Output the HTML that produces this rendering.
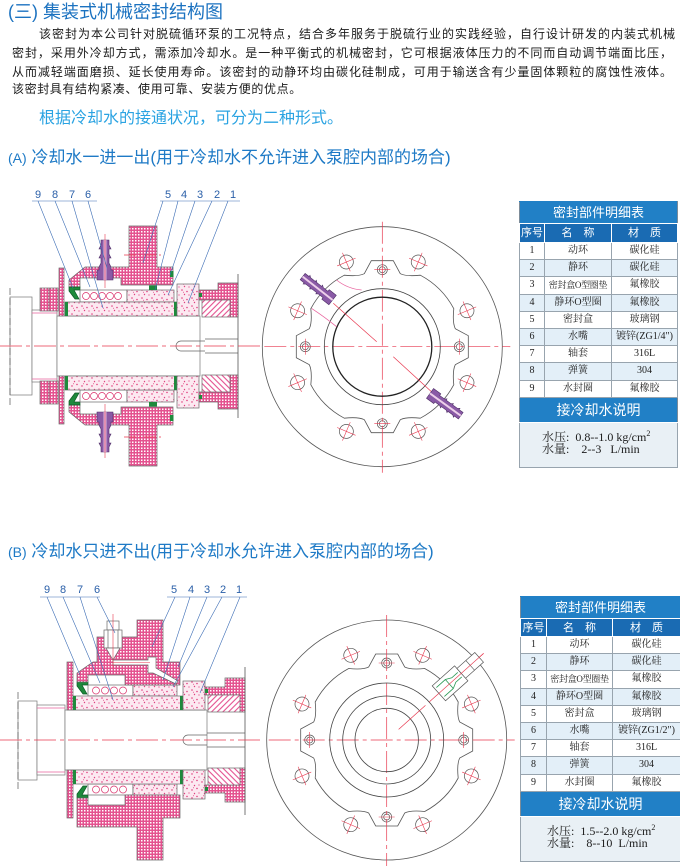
<!DOCTYPE html>
<html><head><meta charset="utf-8">
<style>
*{margin:0;padding:0;box-sizing:border-box}
body{width:680px;height:866px;background:#fff;position:relative;overflow:hidden;font-family:"Liberation Sans","Noto Sans CJK SC",sans-serif}
.t{position:absolute;white-space:nowrap}
.h1{left:8px;top:1px;font-size:18px;line-height:22px;color:#1b72c0}
.p{position:absolute;font-size:12px;line-height:18px;color:#1a1a1a;text-align:justify;text-align-last:justify;white-space:normal}
.sub{left:39px;top:109px;font-size:16px;line-height:20px;color:#2aa3e2}
.hd{left:8px;font-size:17px;line-height:20px;color:#1e7ac6}
.hd span{font-size:14px}
.tb{position:absolute;border-collapse:collapse;table-layout:fixed;font-family:"Liberation Serif","Noto Serif CJK SC",serif;font-size:10px;color:#222;border:1px solid #7d8c99}
.tb td{border:1px solid #98a4ae;text-align:center;padding:0;line-height:12px;white-space:nowrap;overflow:hidden}
.tb tr.r{height:17.2px}
.tb tr.r td{background:#fff}
.tb tr.r.a td{background:#e3eff8}
.tb td.s{font-size:9px;letter-spacing:-.3px}
.tb tr.tt td{background:#2180c6;color:#fff;font-family:"Liberation Sans","Noto Sans CJK SC",sans-serif;font-size:13px;border-color:#2180c6 #7d8c99 #fff #7d8c99}
.tb tr.th td{background:#1a6bb3;color:#fff;font-family:"Liberation Sans","Noto Sans CJK SC",sans-serif;font-size:11px;border-color:#fff}
.tb tr.bx td{background:#e9f0f5;text-align:left;vertical-align:top;font-size:12px;line-height:12.6px;padding:8px 0 0 22px;color:#1a1a1a}
sup{font-size:8px;vertical-align:5px;line-height:0}
svg{position:absolute;left:0;top:0}
</style></head><body>
<svg width="680" height="866" viewBox="0 0 680 866">
<defs>
<pattern id="ck" width="3" height="3" patternUnits="userSpaceOnUse"><rect width="3" height="3" fill="#e4528f"/><rect width="1.5" height="1.5" fill="#fff"/></pattern>
<pattern id="dt" width="10" height="8" patternUnits="userSpaceOnUse"><rect width="10" height="8" fill="#fce9f1"/><circle cx="2" cy="2" r=".8" fill="#e0407f"/><circle cx="7" cy="3.5" r=".8" fill="#e0407f"/><circle cx="4.5" cy="6.5" r=".7" fill="#e0407f"/><circle cx="9" cy="7" r=".6" fill="#e0407f"/><circle cx="3.5" cy="4.2" r=".5" fill="#e0407f"/></pattern>
<pattern id="ht" width="4" height="4" patternUnits="userSpaceOnUse" patternTransform="rotate(45)"><rect width="4" height="4" fill="#fff"/><line x1="1" y1="0" x2="1" y2="4" stroke="#e4508f" stroke-width="1.1"/></pattern>

<g id="hA" stroke="#6a6a6a" stroke-width=".7">
 <rect x="40" y="288" width="18" height="23" fill="url(#ck)"/>
 <line x1="49" y1="288" x2="49" y2="311"/>
 <rect x="59" y="268" width="5" height="48" fill="url(#ck)"/>
 <polygon points="69,287 69,280 85,267 129,267 129,226 157,226 157,267 173,267 173,285 121,285 121,278 80,278 80,287" fill="url(#ck)"/>
 <path d="M69,287 h11 v3 h-6 l5,9 h-4 l-6,-8z" fill="#1e8a3c" stroke="#0d5a25"/>
 <rect x="80" y="290" width="47" height="12" fill="#fff"/>
 <g fill="none" stroke="#d8306a"><circle cx="86" cy="296" r="3.5"/><circle cx="94" cy="296" r="3.5"/><circle cx="102" cy="296" r="3.5"/><circle cx="110" cy="296" r="3.5"/><circle cx="118" cy="296" r="3.5"/></g>
 <rect x="127" y="290" width="47" height="12" fill="url(#dt)"/>
 <rect x="149" y="285.5" width="8" height="4.5" fill="#1e8a3c" stroke="none"/>
 <rect x="170" y="271" width="3.5" height="6" fill="#1e8a3c" stroke="none"/>
 <rect x="65" y="302" width="112" height="14" fill="url(#dt)"/>
 <rect x="65" y="302" width="3" height="14" fill="#1e8a3c" stroke="none"/>
 <rect x="174" y="302" width="3" height="14" fill="#1e8a3c" stroke="none"/>
 <rect x="177" y="284" width="22" height="32" fill="url(#dt)"/>
 <polygon points="199,290 218,290 218,283 238,283 238,317 230,317 230,300 199,300" fill="url(#ck)"/>
 <rect x="202" y="300" width="28" height="17" fill="url(#ht)"/>
 <rect x="199" y="293" width="3" height="4" fill="#1e8a3c" stroke="none"/>
 <line x1="124" y1="255" x2="164" y2="255" stroke="#e8384f" stroke-dasharray="12,3,2,3"/>
 <polygon points="101,240 109,240 109,245 111,249 109,249 109,254 111,258 109,258 109,263 111,267 111,270 113,270 113,280 97,280 97,270 99,270 99,267 101,263 101,258 99,258 101,254 101,249 99,249 101,245" fill="#8a5aa6" stroke="#4e2e66" stroke-width=".6"/>
 <rect x="103.5" y="240" width="3" height="40" fill="#dcb6dc" stroke="none"/>
 <line x1="105" y1="234" x2="105" y2="288" stroke="#e8384f" stroke-width=".6"/>
</g>

<g id="hB" stroke="#6a6a6a" stroke-width=".7">
 <rect x="67" y="662" width="6" height="48" fill="url(#ck)"/>
 <path d="M77,682 h11 v3 h-6 l5,9 h-4 l-6,-8z" fill="#1e8a3c" stroke="#0d5a25"/>
 <rect x="88" y="685" width="45" height="11" fill="#fff"/>
 <g fill="none" stroke="#d8306a"><circle cx="96" cy="690.5" r="3.5"/><circle cx="105" cy="690.5" r="3.5"/><circle cx="114" cy="690.5" r="3.5"/><circle cx="123" cy="690.5" r="3.5"/></g>
 <rect x="133" y="685" width="44" height="11" fill="url(#dt)"/>
 <rect x="157" y="680.5" width="8" height="4.5" fill="#1e8a3c" stroke="none"/>
 <rect x="177" y="666" width="3" height="6" fill="#1e8a3c" stroke="none"/>
 <rect x="73" y="696" width="110" height="14" fill="url(#dt)"/>
 <rect x="73" y="696" width="3" height="14" fill="#1e8a3c" stroke="none"/>
 <rect x="180" y="696" width="3" height="14" fill="#1e8a3c" stroke="none"/>
 <rect x="183" y="681" width="22" height="29" fill="url(#dt)"/>
 <polygon points="205,687 225,687 225,678 245,678 245,712 240,712 240,695 205,695" fill="url(#ck)"/>
 <rect x="208" y="695" width="32" height="17" fill="url(#ht)"/>
 <rect x="205" y="689" width="3" height="4" fill="#1e8a3c" stroke="none"/>
</g>

<g id="hole"><circle cx="0" cy="-92" r="7" fill="none" stroke="#555" stroke-width=".7"/><path d="M0,-102V-82M-10,-92H10" stroke="#e8384f" stroke-width=".6" fill="none"/></g>
<g id="lh"><circle cx="0" cy="-77" r="5" fill="none" stroke="#555" stroke-width=".7"/><circle cx="0" cy="-77" r="3" fill="none" stroke="#555" stroke-width=".7"/><path d="M-8,-77H8" stroke="#e8384f" stroke-width=".6"/></g>
<g id="flg">
 <circle r="120" fill="none" stroke="#555" stroke-width=".8"/>
 <path d="M-11,-86 L11,-86 L18,-73 Q24,-70 38,-71.5 A81 81 0 0 1 71.5,-38 Q70,-24 73,-18 L86,-11 L86,11 L73,18 Q70,24 71.5,38 A81 81 0 0 1 38,71.5 Q24,70 18,73 L11,86 L-11,86 L-18,73 Q-24,70 -38,71.5 A81 81 0 0 1 -71.5,38 Q-70,24 -73,18 L-86,11 L-86,-11 L-73,-18 Q-70,-24 -71.5,-38 A81 81 0 0 1 -38,-71.5 Q-24,-70 -18,-73 Z" fill="none" stroke="#555" stroke-width=".8"/>
 <use href="#hole" transform="rotate(23)"/><use href="#hole" transform="rotate(67)"/><use href="#hole" transform="rotate(113)"/><use href="#hole" transform="rotate(157)"/>
 <use href="#hole" transform="rotate(203)"/><use href="#hole" transform="rotate(247)"/><use href="#hole" transform="rotate(293)"/><use href="#hole" transform="rotate(337)"/>
 <use href="#lh"/><use href="#lh" transform="rotate(90)"/><use href="#lh" transform="rotate(180)"/><use href="#lh" transform="rotate(270)"/>
 <line x1="-118" y1="0" x2="128" y2="0" stroke="#e8384f" stroke-width=".7" stroke-dasharray="22,4,4,4"/>
 <line x1="0" y1="-125" x2="0" y2="126" stroke="#e8384f" stroke-width=".7" stroke-dasharray="22,4,4,4"/>
</g>
<g id="nzA">
 <polygon points="0,-6 9,-6 9,-4 15,-4 17,-5.5 17,-4 23,-4 25,-5.5 25,-4 31,-4 33,-5.5 33,-4 38,-4 38,4 33,4 33,5.5 31,4 25,4 25,5.5 23,4 17,4 17,5.5 15,4 9,4 9,6 0,6" fill="#8a5aa6" stroke="#4e2e66" stroke-width=".6"/>
 <line x1="0" y1="0" x2="38" y2="0" stroke="#eed0ea" stroke-width="2"/>
</g>
</defs>

<!-- Drawing A left -->
<rect x="10" y="297" width="22" height="98" fill="#fff" stroke="#777" stroke-width=".7"/>
<line x1="10" y1="288" x2="10" y2="405" stroke="#555" stroke-width=".7" stroke-dasharray="7,3"/>
<rect x="32" y="310" width="25" height="72" fill="#fff" stroke="#777" stroke-width=".7"/>
<line x1="32" y1="313" x2="57" y2="313" stroke="#e8609c" stroke-width=".7"/>
<line x1="32" y1="379" x2="57" y2="379" stroke="#e8609c" stroke-width=".7"/>
<rect x="57" y="316" width="143" height="60" fill="#fff" stroke="#777" stroke-width=".7"/>
<path d="M205,341 H181 A5,5 0 0 0 181,351 H205 M205,339 H238 M205,353 H238" fill="none" stroke="#666" stroke-width=".7"/>
<use href="#hA"/>
<use href="#hA" transform="matrix(1,0,0,-1,0,692)"/>
<line x1="238" y1="274" x2="238" y2="418" stroke="#555" stroke-width=".8"/>
<line x1="0" y1="346" x2="262" y2="346" stroke="#e8384f" stroke-width=".7" stroke-dasharray="22,4,4,4"/>
<g stroke="#3c6db5" stroke-width=".6" fill="none">
 <path d="M32,201H97 M160,201H240 M38,201L73,288 M55,201L90,287 M72,201L103,308 M88,201L107,268 M163,201L143,263 M178,201L155,290 M195,201L170,275 M212,201L168,295 M228,201L188,303"/>
</g>
<g font-family="Liberation Sans, sans-serif" font-size="11" fill="#2a5fa8" text-anchor="middle">
 <text x="38" y="198">9</text><text x="55" y="198">8</text><text x="72" y="198">7</text><text x="88" y="198">6</text>
 <text x="168" y="198">5</text><text x="184" y="198">4</text><text x="200" y="198">3</text><text x="217" y="198">2</text><text x="233" y="198">1</text>
</g>

<!-- Drawing A right -->
<g transform="translate(382.3,346.7)">
 <use href="#flg"/>
 <circle r="58" fill="none" stroke="#444" stroke-width=".8"/>
 <circle r="49.5" fill="none" stroke="#222" stroke-width="1.3"/>
 <path d="M-45.7,-66.7 Q-35,-58 -20.7,-56.7 M-70.7,-38.3 Q-58,-30 -45.7,-20" fill="none" stroke="#e8609c" stroke-width=".7"/>
 <line x1="-5.6" y1="-5" x2="-49" y2="-43.4" stroke="#e8384f" stroke-width=".7"/>
 <line x1="11" y1="10" x2="52.7" y2="48.3" stroke="#e8384f" stroke-width=".7"/>
 <use href="#nzA" transform="translate(-49.7,-46.7) rotate(-142)"/>
 <use href="#nzA" transform="translate(47.7,46.7) rotate(36)"/>
</g>

<!-- Drawing B left -->
<rect x="18" y="701" width="19" height="79" fill="#fff" stroke="#777" stroke-width=".7"/>
<line x1="18" y1="692" x2="18" y2="790" stroke="#555" stroke-width=".7" stroke-dasharray="7,3"/>
<rect x="37" y="705" width="28" height="70" fill="#fff" stroke="#777" stroke-width=".7"/>
<line x1="37" y1="708" x2="65" y2="708" stroke="#e8609c" stroke-width=".7"/>
<line x1="37" y1="772" x2="65" y2="772" stroke="#e8609c" stroke-width=".7"/>
<rect x="65" y="710" width="142" height="60" fill="#fff" stroke="#777" stroke-width=".7"/>
<path d="M207,735 H188 A5,5 0 0 0 188,745 H207 M207,733 H245 M207,747 H245" fill="none" stroke="#666" stroke-width=".7"/>
<use href="#hB"/>
<use href="#hB" transform="matrix(1,0,0,-1,0,1480)"/>
<g stroke="#6a6a6a" stroke-width=".7">
 <polygon points="77,682 77,673 93,662 97,662 97,637 137,637 137,620 163,620 163,662 180,662 180,685 125,685 125,675 88,675 88,682" fill="url(#ck)"/>
 <polygon points="77,798 88,798 88,805 125,805 125,795 180,795 180,818 163,818 163,860 137,860 137,827 77,827" fill="url(#ck)"/>
 <path d="M113,660 H148 V657 H156 V668 L178,681 L176,684 L153,673 H148 V665 H113 Z" fill="#fff"/>
 <rect x="107" y="621" width="12" height="9" fill="#fff"/>
 <rect x="104" y="630" width="18" height="18" fill="#fff"/>
 <line x1="108" y1="630" x2="108" y2="648"/><line x1="118" y1="630" x2="118" y2="648"/>
 <polygon points="106,648 120,648 113,660" fill="#fff"/>
</g>
<line x1="113" y1="614" x2="113" y2="668" stroke="#e8384f" stroke-width=".6"/>
<line x1="113" y1="662.5" x2="150" y2="662.5" stroke="#e8384f" stroke-width=".6"/>
<line x1="245" y1="667" x2="245" y2="815" stroke="#555" stroke-width=".8"/>
<line x1="0" y1="740" x2="262" y2="740" stroke="#e8384f" stroke-width=".7" stroke-dasharray="22,4,4,4"/>
<g stroke="#3c6db5" stroke-width=".6" fill="none">
 <path d="M40,597H100 M167,597H247 M47,597L80,675 M63,597L100,683 M80,597L113,700 M97,597L115,633 M175,597L152,647 M190,597L163,680 M207,597L178,667 M222,597L173,687 M240,597L200,693"/>
</g>
<g font-family="Liberation Sans, sans-serif" font-size="11" fill="#2a5fa8" text-anchor="middle">
 <text x="47" y="593">9</text><text x="63" y="593">8</text><text x="80" y="593">7</text><text x="97" y="593">6</text>
 <text x="174" y="593">5</text><text x="191" y="593">4</text><text x="207" y="593">3</text><text x="223" y="593">2</text><text x="239" y="593">1</text>
</g>

<!-- Drawing B right -->
<g transform="translate(386.7,740)">
 <use href="#flg"/>
 <circle r="57" fill="none" stroke="#444" stroke-width=".8"/>
 <circle r="44" fill="none" stroke="#444" stroke-width=".8"/>
 <circle r="31.7" fill="none" stroke="#444" stroke-width=".8"/>
 <g transform="rotate(-41.8)">
  <line x1="16" y1="0" x2="130" y2="0" stroke="#e8384f" stroke-width=".7" stroke-dasharray="36,5,60,3"/>
  <rect x="70" y="-10" width="30" height="20" fill="#fff" stroke="#555" stroke-width=".7"/>
  <rect x="100" y="-6.5" width="24" height="13" fill="#fff" stroke="#555" stroke-width=".7"/>
  <line x1="112" y1="-6.5" x2="112" y2="6.5" stroke="#555" stroke-width=".6"/>
  <path d="M72,-6 L84,-6 L90,-3 L98,-3 M72,6 L84,6 L90,3 L98,3 M84,-6 L84,6" fill="none" stroke="#2a9a55" stroke-width=".8"/>
  <line x1="70" y1="0" x2="130" y2="0" stroke="#e8384f" stroke-width=".6"/>
 </g>
</g>
</svg>

<div class="t h1">(三) 集装式机械密封结构图</div>
<div class="p" style="left:39px;top:25px;width:636px">该密封为本公司针对脱硫循环泵的工况特点，结合多年服务于脱硫行业的实践经验，自行设计研发的内装式机械</div>
<div class="p" style="left:12px;top:44px;width:660px">密封，采用外冷却方式，需添加冷却水。是一种平衡式的机械密封，它可根据液体压力的不同而自动调节端面比压，</div>
<div class="p" style="left:12px;top:62.5px;width:660px">从而减轻端面磨损、延长使用寿命。该密封的动静环均由碳化硅制成，可用于输送含有少量固体颗粒的腐蚀性液体。</div>
<div class="t" style="left:12px;top:80px;font-size:12px;line-height:18px;color:#1a1a1a;letter-spacing:.6px">该密封具有结构紧凑、使用可靠、安装方便的优点。</div>
<div class="t sub">根据冷却水的接通状况，可分为二种形式。</div>
<div class="t hd" style="top:148px"><span>(A)</span> 冷却水一进一出(用于冷却水不允许进入泵腔内部的场合)</div>
<div class="t hd" style="top:542px"><span>(B)</span> 冷却水只进不出(用于冷却水允许进入泵腔内部的场合)</div>

<table class="tb" style="left:519px;top:201px;width:158px">
<colgroup><col style="width:25px"><col style="width:67px"><col style="width:66px"></colgroup>
<tr class="tt" style="height:22px"><td colspan="3">密封部件明细表</td></tr>
<tr class="th" style="height:19px"><td>序号</td><td>名　称</td><td>材　质</td></tr>
<tr class="r"><td>1</td><td>动环</td><td>碳化硅</td></tr>
<tr class="r a"><td>2</td><td>静环</td><td>碳化硅</td></tr>
<tr class="r"><td>3</td><td class="s">密封盒O型圈垫</td><td>氟橡胶</td></tr>
<tr class="r a"><td>4</td><td>静环O型圈</td><td>氟橡胶</td></tr>
<tr class="r"><td>5</td><td>密封盒</td><td>玻璃钢</td></tr>
<tr class="r a"><td>6</td><td>水嘴</td><td>镀锌(ZG1/4")</td></tr>
<tr class="r"><td>7</td><td>轴套</td><td>316L</td></tr>
<tr class="r a"><td>8</td><td>弹簧</td><td>304</td></tr>
<tr class="r"><td>9</td><td>水封圈</td><td>氟橡胶</td></tr>
<tr class="tt" style="height:25px"><td colspan="3" style="font-size:14px">接冷却水说明</td></tr>
<tr class="bx" style="height:45px"><td colspan="3">水压:&nbsp; 0.8--1.0 kg/cm<sup>2</sup><br>水量:&nbsp;&nbsp;&nbsp; 2--3&nbsp;&nbsp; L/min</td></tr>
</table>

<table class="tb" style="left:520px;top:596px;width:160px">
<colgroup><col style="width:26px"><col style="width:66px"><col style="width:68px"></colgroup>
<tr class="tt" style="height:22px"><td colspan="3">密封部件明细表</td></tr>
<tr class="th" style="height:18px"><td>序号</td><td>名　称</td><td>材　质</td></tr>
<tr class="r"><td>1</td><td>动环</td><td>碳化硅</td></tr>
<tr class="r a"><td>2</td><td>静环</td><td>碳化硅</td></tr>
<tr class="r"><td>3</td><td class="s">密封盒O型圈垫</td><td>氟橡胶</td></tr>
<tr class="r a"><td>4</td><td>静环O型圈</td><td>氟橡胶</td></tr>
<tr class="r"><td>5</td><td>密封盒</td><td>玻璃钢</td></tr>
<tr class="r a"><td>6</td><td>水嘴</td><td>镀锌(ZG1/2")</td></tr>
<tr class="r"><td>7</td><td>轴套</td><td>316L</td></tr>
<tr class="r a"><td>8</td><td>弹簧</td><td>304</td></tr>
<tr class="r"><td>9</td><td>水封圈</td><td>氟橡胶</td></tr>
<tr class="tt" style="height:25px"><td colspan="3" style="font-size:14px">接冷却水说明</td></tr>
<tr class="bx" style="height:45px"><td colspan="3" style="padding-left:26px">水压:&nbsp; 1.5--2.0 kg/cm<sup>2</sup><br>水量:&nbsp;&nbsp;&nbsp; 8--10&nbsp; L/min</td></tr>
</table>
</body></html>
